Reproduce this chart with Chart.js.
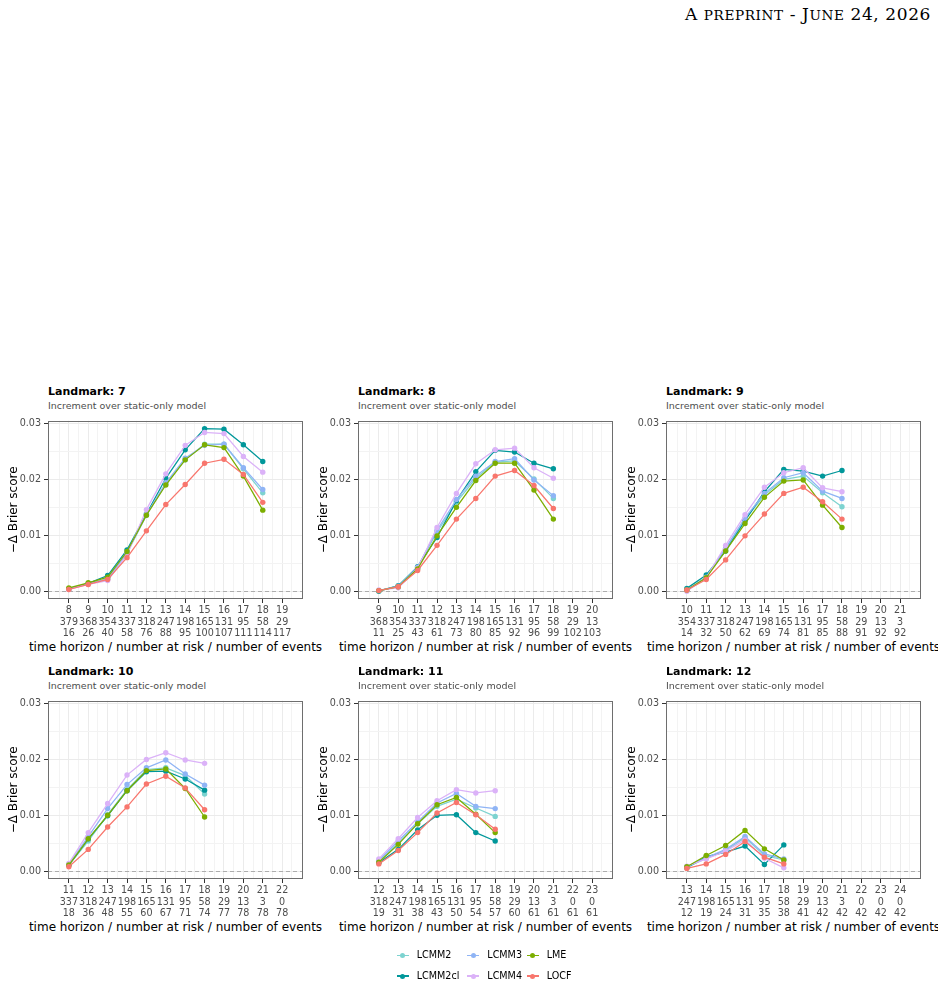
<!DOCTYPE html>
<html>
<head>
<meta charset="utf-8">
<script src="https://cdn.jsdelivr.net/npm/chart.js@4.4.1/dist/chart.umd.min.js"></script>
<style>
  html, body { margin: 0; padding: 0; background: #fff; }
  body { width: 938px; height: 987px; overflow: hidden; position: relative; font-family: 'DejaVu Sans', sans-serif; }
  .hdr { position: absolute; right: 7px; top: 3.5px; font-family: 'DejaVu Serif', serif; font-size: 17px; line-height: 20px; letter-spacing: 0.6px; color: #000; white-space: nowrap; }
  .hdr .sc { font-size: 13.6px; }
  .ttl { position: absolute; font-weight: bold; font-size: 11px; line-height: 13px; color: #000; white-space: nowrap; }
  .sub { position: absolute; font-size: 9.5px; line-height: 11px; color: #4D4D4D; white-space: nowrap; }
  .xt { position: absolute; font-size: 12px; line-height: 14px; color: #000; white-space: nowrap; transform: translateX(-50%); }
  canvas.panel { position: absolute; }
  .lg { position: absolute; font-size: 9.6px; line-height: 12px; color: #000; white-space: nowrap; }
  .lkey { position: absolute; width: 12px; height: 1.2px; }
  .ldot { position: absolute; width: 5px; height: 5px; border-radius: 50%; }
</style>
</head>
<body>
<div class="hdr">A <span class="sc">PREPRINT</span> - J<span class="sc">UNE</span> 24, 2026</div>
<div id="root"></div>
<script>
// ---------------- DATA ----------------
const landmarks = [7, 8, 9, 10, 11, 12];
const models = ['LCMM2', 'LCMM2cl', 'LCMM3', 'LCMM4', 'LME', 'LOCF'];
const yTickLabels = ['0.00', '0.01', '0.02', '0.03'];

// tick labels: horizon / number at risk / number of events
const horizons_lm7  = [8, 9, 10, 11, 12, 13, 14, 15, 16, 17, 18, 19];
const atRisk_lm7    = [379, 368, 354, 337, 318, 247, 198, 165, 131, 95, 58, 29];
const events_lm7    = [16, 26, 40, 58, 76, 88, 95, 100, 107, 111, 114, 117];

const horizons_lm8  = [9, 10, 11, 12, 13, 14, 15, 16, 17, 18, 19, 20];
const atRisk_lm8    = [368, 354, 337, 318, 247, 198, 165, 131, 95, 58, 29, 13];
const events_lm8    = [11, 25, 43, 61, 73, 80, 85, 92, 96, 99, 102, 103];

const horizons_lm9  = [10, 11, 12, 13, 14, 15, 16, 17, 18, 19, 20, 21];
const atRisk_lm9    = [354, 337, 318, 247, 198, 165, 131, 95, 58, 29, 13, 3];
const events_lm9    = [14, 32, 50, 62, 69, 74, 81, 85, 88, 91, 92, 92];

const horizons_lm10 = [11, 12, 13, 14, 15, 16, 17, 18, 19, 20, 21, 22];
const atRisk_lm10   = [337, 318, 247, 198, 165, 131, 95, 58, 29, 13, 3, 0];
const events_lm10   = [18, 36, 48, 55, 60, 67, 71, 74, 77, 78, 78, 78];

const horizons_lm11 = [12, 13, 14, 15, 16, 17, 18, 19, 20, 21, 22, 23];
const atRisk_lm11   = [318, 247, 198, 165, 131, 95, 58, 29, 13, 3, 0, 0];
const events_lm11   = [19, 31, 38, 43, 50, 54, 57, 60, 61, 61, 61, 61];

const horizons_lm12 = [13, 14, 15, 16, 17, 18, 19, 20, 21, 22, 23, 24];
const atRisk_lm12   = [247, 198, 165, 131, 95, 58, 29, 13, 3, 0, 0, 0];
const events_lm12   = [12, 19, 24, 31, 35, 38, 41, 42, 42, 42, 42, 42];

// series values (-Δ Brier score), starting at the first horizon of each landmark
const lm7_LCMM2   = [0.0004, 0.0013, 0.0022, 0.0068, 0.0136, 0.0192, 0.0235, 0.0263, 0.0263, 0.0219, 0.0176];
const lm7_LCMM2cl = [0.0004, 0.0014, 0.0028, 0.0074, 0.0138, 0.0202, 0.0253, 0.0291, 0.0290, 0.0262, 0.0232];
const lm7_LCMM3   = [0.0004, 0.0013, 0.0022, 0.0069, 0.0137, 0.0194, 0.0238, 0.0261, 0.0263, 0.0221, 0.0182];
const lm7_LCMM4   = [0.0003, 0.0012, 0.0019, 0.0065, 0.0146, 0.0210, 0.0261, 0.0284, 0.0282, 0.0241, 0.0213];
const lm7_LME     = [0.0006, 0.0015, 0.0025, 0.0071, 0.0136, 0.0190, 0.0235, 0.0262, 0.0257, 0.0206, 0.0145];
const lm7_LOCF    = [0.0003, 0.0012, 0.0021, 0.0060, 0.0108, 0.0155, 0.0191, 0.0229, 0.0236, 0.0209, 0.0159];

const lm8_LCMM2   = [0.0001, 0.0009, 0.0043, 0.0106, 0.0159, 0.0202, 0.0231, 0.0233, 0.0201, 0.0166];
const lm8_LCMM2cl = [0.0000, 0.0010, 0.0044, 0.0096, 0.0162, 0.0214, 0.0252, 0.0249, 0.0229, 0.0219];
const lm8_LCMM3   = [0.0001, 0.0009, 0.0043, 0.0109, 0.0164, 0.0206, 0.0232, 0.0237, 0.0199, 0.0171];
const lm8_LCMM4   = [0.0002, 0.0006, 0.0041, 0.0114, 0.0175, 0.0228, 0.0253, 0.0256, 0.0221, 0.0202];
const lm8_LME     = [0.0001, 0.0008, 0.0040, 0.0099, 0.0150, 0.0198, 0.0229, 0.0229, 0.0181, 0.0129];
const lm8_LOCF    = [0.0001, 0.0008, 0.0037, 0.0082, 0.0129, 0.0166, 0.0206, 0.0216, 0.0189, 0.0148];

const lm9_LCMM2   = [0.0002, 0.0025, 0.0076, 0.0128, 0.0172, 0.0200, 0.0206, 0.0176, 0.0151];
const lm9_LCMM2cl = [0.0005, 0.0029, 0.0072, 0.0126, 0.0178, 0.0218, 0.0215, 0.0206, 0.0216];
const lm9_LCMM3   = [0.0002, 0.0025, 0.0077, 0.0131, 0.0175, 0.0203, 0.0212, 0.0179, 0.0166];
const lm9_LCMM4   = [0.0000, 0.0024, 0.0082, 0.0137, 0.0186, 0.0212, 0.0221, 0.0185, 0.0178];
const lm9_LME     = [0.0002, 0.0024, 0.0072, 0.0121, 0.0168, 0.0197, 0.0199, 0.0154, 0.0114];
const lm9_LOCF    = [0.0002, 0.0021, 0.0056, 0.0099, 0.0138, 0.0175, 0.0186, 0.0160, 0.0129];

const lm10_LCMM2   = [0.0011, 0.0054, 0.0101, 0.0146, 0.0182, 0.0185, 0.0171, 0.0138];
const lm10_LCMM2cl = [0.0011, 0.0058, 0.0099, 0.0144, 0.0178, 0.0179, 0.0165, 0.0145];
const lm10_LCMM3   = [0.0012, 0.0062, 0.0112, 0.0155, 0.0185, 0.0199, 0.0174, 0.0154];
const lm10_LCMM4   = [0.0014, 0.0069, 0.0121, 0.0172, 0.0200, 0.0212, 0.0199, 0.0193];
const lm10_LME     = [0.0011, 0.0058, 0.0100, 0.0144, 0.0180, 0.0183, 0.0148, 0.0097];
const lm10_LOCF    = [0.0008, 0.0039, 0.0079, 0.0115, 0.0156, 0.0170, 0.0149, 0.0110];

const lm11_LCMM2   = [0.0017, 0.0050, 0.0085, 0.0116, 0.0129, 0.0113, 0.0098];
const lm11_LCMM2cl = [0.0015, 0.0039, 0.0074, 0.0100, 0.0101, 0.0069, 0.0054];
const lm11_LCMM3   = [0.0019, 0.0054, 0.0088, 0.0122, 0.0139, 0.0116, 0.0112];
const lm11_LCMM4   = [0.0022, 0.0058, 0.0096, 0.0126, 0.0146, 0.0140, 0.0144];
const lm11_LME     = [0.0016, 0.0048, 0.0085, 0.0119, 0.0132, 0.0102, 0.0069];
const lm11_LOCF    = [0.0013, 0.0037, 0.0069, 0.0104, 0.0123, 0.0101, 0.0075];

const lm12_LCMM2   = [0.0007, 0.0023, 0.0037, 0.0060, 0.0028, 0.0020];
const lm12_LCMM2cl = [0.0006, 0.0026, 0.0034, 0.0045, 0.0012, 0.0047];
const lm12_LCMM3   = [0.0008, 0.0024, 0.0039, 0.0062, 0.0031, 0.0022];
const lm12_LCMM4   = [0.0009, 0.0022, 0.0036, 0.0056, 0.0023, 0.0006];
const lm12_LME     = [0.0008, 0.0028, 0.0046, 0.0073, 0.0040, 0.0020];
const lm12_LOCF    = [0.0005, 0.0013, 0.0030, 0.0053, 0.0025, 0.0013];

// ---------------- STYLE ----------------
const colors = {
  LCMM2: '#7DD3D0', LCMM2cl: '#00979A', LCMM3: '#8FB4F5',
  LCMM4: '#DBB2F8', LME: '#7CAE00', LOCF: '#F8766D'
};
const FONT = 'DejaVu Sans';

const panelTables = {
  7:  { h: horizons_lm7,  r: atRisk_lm7,  e: events_lm7,  s: { LCMM2: lm7_LCMM2,  LCMM2cl: lm7_LCMM2cl,  LCMM3: lm7_LCMM3,  LCMM4: lm7_LCMM4,  LME: lm7_LME,  LOCF: lm7_LOCF } },
  8:  { h: horizons_lm8,  r: atRisk_lm8,  e: events_lm8,  s: { LCMM2: lm8_LCMM2,  LCMM2cl: lm8_LCMM2cl,  LCMM3: lm8_LCMM3,  LCMM4: lm8_LCMM4,  LME: lm8_LME,  LOCF: lm8_LOCF } },
  9:  { h: horizons_lm9,  r: atRisk_lm9,  e: events_lm9,  s: { LCMM2: lm9_LCMM2,  LCMM2cl: lm9_LCMM2cl,  LCMM3: lm9_LCMM3,  LCMM4: lm9_LCMM4,  LME: lm9_LME,  LOCF: lm9_LOCF } },
  10: { h: horizons_lm10, r: atRisk_lm10, e: events_lm10, s: { LCMM2: lm10_LCMM2, LCMM2cl: lm10_LCMM2cl, LCMM3: lm10_LCMM3, LCMM4: lm10_LCMM4, LME: lm10_LME, LOCF: lm10_LOCF } },
  11: { h: horizons_lm11, r: atRisk_lm11, e: events_lm11, s: { LCMM2: lm11_LCMM2, LCMM2cl: lm11_LCMM2cl, LCMM3: lm11_LCMM3, LCMM4: lm11_LCMM4, LME: lm11_LME, LOCF: lm11_LOCF } },
  12: { h: horizons_lm12, r: atRisk_lm12, e: events_lm12, s: { LCMM2: lm12_LCMM2, LCMM2cl: lm12_LCMM2cl, LCMM3: lm12_LCMM3, LCMM4: lm12_LCMM4, LME: lm12_LME, LOCF: lm12_LOCF } }
};

// ---------------- LAYOUT ----------------
const plotLefts = [48, 358, 666];
const plotTops = [418, 698];
const PW = 255, PH = 181;
const YAXW = 48, PADTOP = 6, XAXH = 57, PADR = 12;
const root = document.getElementById('root');

Chart.defaults.font.family = FONT;

const panelDeco = {
  id: 'panelDeco',
  beforeDatasetsDraw(chart) {
    const { ctx, chartArea: a, scales: { y } } = chart;
    const yz = Math.round(y.getPixelForValue(0)) + 0.5;
    ctx.save();
    ctx.strokeStyle = '#A6A6A6';
    ctx.lineWidth = 0.9;
    ctx.setLineDash([4, 3]);
    ctx.beginPath();
    ctx.moveTo(a.left, yz);
    ctx.lineTo(a.right, yz);
    ctx.stroke();
    ctx.restore();
  },
  afterDraw(chart) {
    const { ctx, chartArea: a } = chart;
    ctx.save();
    ctx.strokeStyle = '#6E6E6E';
    ctx.lineWidth = 1;
    ctx.strokeRect(Math.round(a.left) + 0.5, Math.round(a.top) + 0.5, Math.round(a.right - a.left) - 1, Math.round(a.bottom - a.top) - 1);
    ctx.restore();
  }
};

function drawAll() {
  landmarks.forEach((L, idx) => {
    const col = idx % 3, row = Math.floor(idx / 3);
    const pl = plotLefts[col], pt = plotTops[row];
    const T = panelTables[L];

    const t = document.createElement('div');
    t.className = 'ttl';
    t.style.left = pl + 'px';
    t.style.top = (pt - 33.5) + 'px';
    t.textContent = 'Landmark: ' + L;
    root.appendChild(t);

    const s = document.createElement('div');
    s.className = 'sub';
    s.style.left = pl + 'px';
    s.style.top = (pt - 18) + 'px';
    s.textContent = 'Increment over static-only model';
    root.appendChild(s);

    const xt = document.createElement('div');
    xt.className = 'xt';
    xt.style.left = (pl + PW / 2) + 'px';
    xt.style.top = (pt + PH + 47.5 - 7) + 'px';
    xt.textContent = 'time horizon / number at risk / number of events';
    root.appendChild(xt);

    const cv = document.createElement('canvas');
    cv.className = 'panel';
    const W = YAXW + PW + PADR, H = PADTOP + PH + XAXH;
    cv.width = W; cv.height = H;
    cv.style.width = W + 'px'; cv.style.height = H + 'px';
    cv.style.left = (pl - YAXW) + 'px';
    cv.style.top = (pt - PADTOP) + 'px';
    root.appendChild(cv);

    const first = T.h[0], last = T.h[T.h.length - 1];
    const xTicks = [];
    for (let v = first - 0.5; v <= last + 0.5 + 1e-9; v += 0.5) xTicks.push(v);
    const yTicks = [0, 0.005, 0.01, 0.015, 0.02, 0.025, 0.03];
    const isMajorX = v => Math.abs(v - Math.round(v)) < 1e-6 && v >= first && v <= last;
    const isMajorY = v => Math.abs(v * 100 - Math.round(v * 100)) < 1e-6;

    const datasets = models.map((m, i) => ({
      label: m,
      data: T.s[m].map((y, k) => ({ x: T.h[k], y: y })),
      borderColor: colors[m],
      backgroundColor: colors[m],
      borderWidth: 1.25,
      pointRadius: 2.7,
      pointBorderWidth: 0,
      pointHoverRadius: 2.7,
      tension: 0,
      order: models.length - i,
      clip: false
    }));

    new Chart(cv, {
      type: 'line',
      data: { datasets },
      plugins: [panelDeco],
      options: {
        responsive: false,
        animation: false,
        devicePixelRatio: 1,
        events: [],
        layout: { padding: { top: PADTOP, right: PADR, left: 0, bottom: 0 } },
        plugins: { legend: { display: false }, tooltip: { enabled: false }, title: { display: false } },
        scales: {
          x: {
            type: 'linear',
            min: first - 1.075,
            max: last + 1.075,
            afterBuildTicks: sc => { sc.ticks = xTicks.map(v => ({ value: v })); },
            afterFit: sc => { sc.height = XAXH; },
            border: { display: false },
            grid: {
              drawTicks: true,
              tickLength: 4,
              color: c => isMajorX(c.tick.value) ? '#EBEBEB' : '#F3F3F3',
              lineWidth: 1,
              tickColor: c => isMajorX(c.tick.value) ? '#333333' : 'rgba(0,0,0,0)'
            },
            ticks: {
              autoSkip: false, maxRotation: 0, minRotation: 0, padding: 2,
              color: '#4D4D4D',
              font: { family: FONT, size: 9.6, lineHeight: 1.2 },
              callback: v => {
                if (!isMajorX(v)) return '';
                const k = Math.round(v) - first;
                return [String(T.h[k]), String(T.r[k]), String(T.e[k])];
              }
            },
            title: { display: false }
          },
          y: {
            type: 'linear',
            min: -0.0014,
            max: 0.0305,
            afterBuildTicks: sc => { sc.ticks = yTicks.map(v => ({ value: v })); },
            afterFit: sc => { sc.width = YAXW; },
            border: { display: false },
            grid: {
              drawTicks: true,
              tickLength: 4,
              color: c => isMajorY(c.tick.value) ? '#EBEBEB' : '#F3F3F3',
              lineWidth: 1,
              tickColor: c => isMajorY(c.tick.value) ? '#333333' : 'rgba(0,0,0,0)'
            },
            ticks: {
              padding: 3,
              color: '#4D4D4D',
              font: { family: FONT, size: 9.6 },
              callback: v => isMajorY(v) ? yTickLabels[Math.round(v * 100)] : ''
            },
            title: {
              display: true,
              text: '\u2212\u0394 Brier score',
              color: '#000',
              font: { family: FONT, size: 12 },
              padding: { top: 7, bottom: 0 }
            }
          }
        }
      }
    });
  });

  // ---------------- LEGEND ----------------
  const legendCols = [[396.7, 'LCMM2', 'LCMM2cl'], [467.3, 'LCMM3', 'LCMM4'], [526.7, 'LME', 'LOCF']];
  const legendRows = [955.7, 976];
  legendCols.forEach(([x, a, b]) => {
    [a, b].forEach((m, r) => {
      const cy = legendRows[r];
      const line = document.createElement('div');
      line.className = 'lkey';
      line.style.left = x + 'px';
      line.style.top = (cy - 0.6) + 'px';
      line.style.background = colors[m];
      root.appendChild(line);
      const dot = document.createElement('div');
      dot.className = 'ldot';
      dot.style.left = (x + 3.5) + 'px';
      dot.style.top = (cy - 2.5) + 'px';
      dot.style.background = colors[m];
      root.appendChild(dot);
      const tx = document.createElement('div');
      tx.className = 'lg';
      tx.style.left = (x + 20) + 'px';
      tx.style.top = (cy - 6.5) + 'px';
      tx.textContent = m;
      root.appendChild(tx);
    });
  });
}

if (document.fonts && document.fonts.load) {
  Promise.all([
    document.fonts.load("12px 'DejaVu Sans'"),
    document.fonts.load("bold 12px 'DejaVu Sans'")
  ]).then(drawAll, drawAll);
} else {
  drawAll();
}
</script>
</body>
</html>
